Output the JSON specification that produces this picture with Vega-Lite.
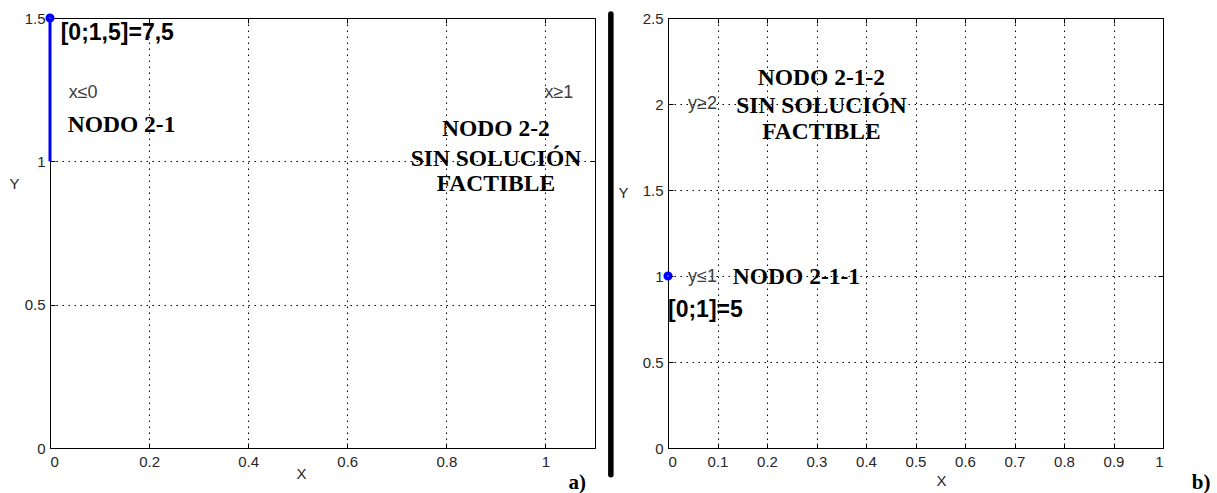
{
  "$schema": "https://vega.github.io/schema/vega-lite/v6.json",
  "background": "white",
  "padding": {"left": 8, "top": 6, "right": 5, "bottom": 0},
  "spacing": 73,
  "bounds": "flush",
  "config": {
    "view": {"stroke": "#000000", "strokeWidth": 1},
    "axis": {
      "domain": false,
      "labelFont": "Liberation Sans",
      "labelFontSize": 15,
      "labelColor": "#262626",
      "titleFont": "Liberation Sans",
      "titleFontSize": 15,
      "titleFontWeight": "normal",
      "titleColor": "#262626",
      "tickColor": "#000000",
      "tickSize": -5,
      "gridColor": "#000000",
      "gridDash": [1.5, 4.5],
      "gridOpacity": 1,
      "gridWidth": 1
    }
  },
  "datasets": {
    "tramoA": [{"x": 0, "y": 1}, {"x": 0, "y": 1.5}],
    "optA": [{"x": 0, "y": 1.5}],
    "solA": [{"x": 0.0216, "y": 1.446, "label": "[0;1,5]=7,5"}],
    "condA": [{"x": 0.0377, "y": 1.24, "label": "x≤0"}, {"x": 0.998, "y": 1.238, "label": "x≥1"}],
    "nodoA": [{"x": 0.0357, "y": 1.127, "label": "NODO 2-1"}],
    "nodoA2": [
      {"x": 0.9, "y": 1.113, "label": "NODO 2-2"},
      {"x": 0.9, "y": 1.008, "label": "SIN SOLUCIÓN"},
      {"x": 0.9, "y": 0.921, "label": "FACTIBLE"}
    ],
    "sep": [{"x": 1.132, "y": -0.093, "y2": 1.514}],
    "tagA": [{"x": 1.064, "y": -0.122, "label": "a)"}],
    "optB": [{"x": 0, "y": 1}],
    "solB": [{"x": 0.0, "y": 0.805, "label": "[0;1]=5"}],
    "condB": [{"x": 0.0404, "y": 2.0, "label": "y≥2"}, {"x": 0.0404, "y": 0.995, "label": "y≤1"}],
    "nodoB": [{"x": 0.131, "y": 0.995, "label": "NODO 2-1-1"}],
    "nodoB2": [
      {"x": 0.31, "y": 2.152, "label": "NODO 2-1-2"},
      {"x": 0.31, "y": 1.988, "label": "SIN SOLUCIÓN"},
      {"x": 0.31, "y": 1.837, "label": "FACTIBLE"}
    ],
    "tagB": [{"x": 1.077, "y": -0.203, "label": "b)"}]
  },
  "hconcat": [
    {
      "width": 545,
      "height": 430,
      "layer": [
        {
          "layer": [
            {
              "data": {"name": "tramoA"},
              "mark": {"type": "line", "color": "#0000ff", "strokeWidth": 3},
              "encoding": {
                "x": {"field": "x", "type": "quantitative",
                  "scale": {"domain": [0, 1.1], "nice": false, "zero": false},
                  "axis": {"orient": "bottom", "values": [0, 0.2, 0.4, 0.6, 0.8, 1], "format": "~g", "grid": true,
                    "title": "X", "titleX": 251, "titleY": 25, "titleBaseline": "middle", "labelPadding": 11}},
                "y": {"field": "y", "type": "quantitative",
                  "scale": {"domain": [0, 1.5], "nice": false, "zero": false},
                  "axis": {"orient": "left", "values": [0, 0.5, 1, 1.5], "format": "~g", "grid": true,
                    "title": "Y", "titleAngle": 0, "titleX": -36, "titleY": 165, "titleBaseline": "middle", "titleAlign": "center", "labelPadding": 10}}
              }
            },
            {
              "data": {"name": "optA"},
              "mark": {"type": "point", "shape": "circle", "filled": false, "fill": "#ffffff", "stroke": "#0000ff", "strokeWidth": 4, "size": 26, "opacity": 1},
              "encoding": {"x": {"field": "x", "type": "quantitative"}, "y": {"field": "y", "type": "quantitative"}}
            },
            {
              "data": {"name": "solA"},
              "mark": {"type": "text", "font": "Liberation Sans", "fontWeight": "bold", "fontSize": 23, "align": "left", "baseline": "middle", "color": "#000000"},
              "encoding": {"x": {"field": "x", "type": "quantitative"}, "y": {"field": "y", "type": "quantitative"}, "text": {"field": "label"}}
            },
            {
              "data": {"name": "condA"},
              "mark": {"type": "text", "font": "Liberation Sans", "fontSize": 18, "align": "left", "baseline": "middle", "color": "#404040"},
              "encoding": {"x": {"field": "x", "type": "quantitative"}, "y": {"field": "y", "type": "quantitative"}, "text": {"field": "label"}}
            },
            {
              "data": {"name": "nodoA"},
              "mark": {"type": "text", "font": "Liberation Serif", "fontWeight": "bold", "fontSize": 23.5, "align": "left", "baseline": "middle", "color": "#000000"},
              "encoding": {"x": {"field": "x", "type": "quantitative"}, "y": {"field": "y", "type": "quantitative"}, "text": {"field": "label"}}
            },
            {
              "data": {"name": "nodoA2"},
              "mark": {"type": "text", "font": "Liberation Serif", "fontWeight": "bold", "fontSize": 23.5, "align": "center", "baseline": "middle", "color": "#000000"},
              "encoding": {"x": {"field": "x", "type": "quantitative"}, "y": {"field": "y", "type": "quantitative"}, "text": {"field": "label"}}
            },
            {
              "data": {"name": "sep"},
              "mark": {"type": "rule", "color": "#000000", "strokeWidth": 5.5, "strokeCap": "round"},
              "encoding": {"x": {"field": "x", "type": "quantitative"}, "y": {"field": "y", "type": "quantitative"}, "y2": {"field": "y2"}}
            },
            {
              "data": {"name": "tagA"},
              "mark": {"type": "text", "font": "Liberation Serif", "fontWeight": "bold", "fontSize": 21, "align": "center", "baseline": "middle", "color": "#000000"},
              "encoding": {"x": {"field": "x", "type": "quantitative"}, "y": {"field": "y", "type": "quantitative"}, "text": {"field": "label"}}
            }
          ]
        },
        {
          "data": {"name": "optA"},
          "mark": {"type": "point", "opacity": 0},
          "encoding": {
            "x": {"field": "x", "type": "quantitative", "axis": {"orient": "top", "values": [0, 0.2, 0.4, 0.6, 0.8, 1], "labels": false, "title": null, "grid": false}},
            "y": {"field": "y", "type": "quantitative", "axis": {"orient": "right", "values": [0, 0.5, 1, 1.5], "labels": false, "title": null, "grid": false}}
          }
        }
      ],
      "resolve": {"axis": {"x": "independent", "y": "independent"}}
    },
    {
      "width": 495,
      "height": 430,
      "layer": [
        {
          "layer": [
            {
              "data": {"name": "optB"},
              "mark": {"type": "point", "shape": "circle", "filled": false, "fill": "#ffffff", "stroke": "#0000ff", "strokeWidth": 4, "size": 26, "opacity": 1},
              "encoding": {
                "x": {"field": "x", "type": "quantitative",
                  "scale": {"domain": [0, 1], "nice": false, "zero": false},
                  "axis": {"orient": "bottom", "values": [0, 0.1, 0.2, 0.3, 0.4, 0.5, 0.6, 0.7, 0.8, 0.9, 1], "format": "~g", "grid": true,
                    "title": "X", "titleX": 273, "titleY": 32, "titleBaseline": "middle", "labelPadding": 11}},
                "y": {"field": "y", "type": "quantitative",
                  "scale": {"domain": [0, 2.5], "nice": false, "zero": false},
                  "axis": {"orient": "left", "values": [0, 0.5, 1, 1.5, 2, 2.5], "format": "~g", "grid": true,
                    "title": "Y", "titleAngle": 0, "titleX": -45, "titleY": 174, "titleBaseline": "middle", "titleAlign": "center", "labelPadding": 10}}
              }
            },
            {
              "data": {"name": "solB"},
              "mark": {"type": "text", "font": "Liberation Sans", "fontWeight": "bold", "fontSize": 23, "align": "left", "baseline": "middle", "color": "#000000"},
              "encoding": {"x": {"field": "x", "type": "quantitative"}, "y": {"field": "y", "type": "quantitative"}, "text": {"field": "label"}}
            },
            {
              "data": {"name": "condB"},
              "mark": {"type": "text", "font": "Liberation Sans", "fontSize": 18, "align": "left", "baseline": "middle", "color": "#404040"},
              "encoding": {"x": {"field": "x", "type": "quantitative"}, "y": {"field": "y", "type": "quantitative"}, "text": {"field": "label"}}
            },
            {
              "data": {"name": "nodoB"},
              "mark": {"type": "text", "font": "Liberation Serif", "fontWeight": "bold", "fontSize": 23.5, "align": "left", "baseline": "middle", "color": "#000000"},
              "encoding": {"x": {"field": "x", "type": "quantitative"}, "y": {"field": "y", "type": "quantitative"}, "text": {"field": "label"}}
            },
            {
              "data": {"name": "nodoB2"},
              "mark": {"type": "text", "font": "Liberation Serif", "fontWeight": "bold", "fontSize": 23.5, "align": "center", "baseline": "middle", "color": "#000000"},
              "encoding": {"x": {"field": "x", "type": "quantitative"}, "y": {"field": "y", "type": "quantitative"}, "text": {"field": "label"}}
            },
            {
              "data": {"name": "tagB"},
              "mark": {"type": "text", "font": "Liberation Serif", "fontWeight": "bold", "fontSize": 21, "align": "center", "baseline": "middle", "color": "#000000"},
              "encoding": {"x": {"field": "x", "type": "quantitative"}, "y": {"field": "y", "type": "quantitative"}, "text": {"field": "label"}}
            }
          ]
        },
        {
          "data": {"name": "optB"},
          "mark": {"type": "point", "opacity": 0},
          "encoding": {
            "x": {"field": "x", "type": "quantitative", "axis": {"orient": "top", "values": [0, 0.1, 0.2, 0.3, 0.4, 0.5, 0.6, 0.7, 0.8, 0.9, 1], "labels": false, "title": null, "grid": false}},
            "y": {"field": "y", "type": "quantitative", "axis": {"orient": "right", "values": [0, 0.5, 1, 1.5, 2, 2.5], "labels": false, "title": null, "grid": false}}
          }
        }
      ],
      "resolve": {"axis": {"x": "independent", "y": "independent"}}
    }
  ]
}
